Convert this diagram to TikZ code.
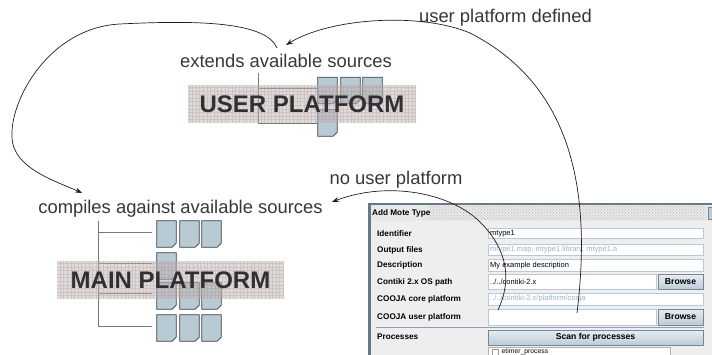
\documentclass[tikz,border=0pt]{standalone}
\usepackage{fontspec}
\setmainfont{Liberation Sans}
\usetikzlibrary{arrows.meta, patterns}

\definecolor{txtgray}{RGB}{55,55,55}
\definecolor{platgray}{RGB}{48,48,52}
\definecolor{bandfill}{RGB}{196,181,178}
\definecolor{bandgrid}{RGB}{150,138,136}
\definecolor{docfill}{RGB}{184,203,213}
\definecolor{docline}{RGB}{55,60,65}
\definecolor{treeline}{RGB}{120,120,120}
\definecolor{linkcol}{RGB}{30,30,30}
\definecolor{dlgbg}{RGB}{238,238,238}
\definecolor{dlgframe}{RGB}{105,120,135}
\definecolor{titlebg}{RGB}{232,232,232}
\definecolor{titledot}{RGB}{185,185,185}
\definecolor{fieldline}{RGB}{184,200,216}
\definecolor{offtxt}{RGB}{150,180,215}
\definecolor{btnline}{RGB}{120,135,150}
\definecolor{btntop}{RGB}{230,237,243}
\definecolor{btnbot}{RGB}{188,203,216}
\definecolor{sepline}{RGB}{140,160,185}

\begin{document}
\begin{tikzpicture}[x=1pt, y=-1pt,
	lbl/.style = {font=\fontsize{18.4}{22}\selectfont, text=txtgray, inner sep=2pt, anchor=base},
	plat/.style = {font=\fontsize{24}{28}\selectfont\bfseries, text=platgray, minimum width=228pt, minimum height=38pt, inner sep=0pt, fill=bandfill, fill opacity=.5, text opacity=1,
		path picture={\draw[bandgrid, draw opacity=.28, line width=.3pt, step=3.6pt] (path picture bounding box.south west) grid (path picture bounding box.north east);}},
	doc/.style = {minimum width=19pt, minimum height=26pt, inner sep=0pt,
		append after command={\pgfextra{\draw[draw=docline, fill=docfill, line width=.8pt] (\tikzlastnode.north west) -- (\tikzlastnode.north east) -- ([yshift=4pt]\tikzlastnode.south east) -- ([xshift=-4pt]\tikzlastnode.south east) -- (\tikzlastnode.south west) -- cycle;}}},
	tree/.style = {draw=treeline, line width=.8pt},
	link/.style = {draw=linkcol, line width=.7pt, -{Stealth[length=7pt, width=5pt]}},
	dlg/.style = {font=\fontsize{7.5}{9}\selectfont, inner sep=0pt, anchor=west},
	dlgb/.style = {dlg, font=\fontsize{8.2}{10}\selectfont\bfseries},
	field/.style = {draw=fieldline, fill=white, line width=.6pt},
	btn/.style = {draw=btnline, top color=btntop, bottom color=btnbot, line width=.6pt, font=\fontsize{8.6}{10}\selectfont\bfseries, inner sep=0pt}]
	\useasboundingbox (0,0) rectangle (712,355);
	\clip (0,0) rectangle (712,355);

	% source files
	\node[doc] (u11) at (327.5,90.5) {};
	\node[doc] (u12) at (350.5,90.5) {};
	\node[doc] (u13) at (372.5,90.5) {};
	\node[doc] (u21) at (327.5,123) {};
	\node[doc] (m11) at (166.5,234) {};
	\node[doc] (m12) at (189.5,234) {};
	\node[doc] (m13) at (211.5,234) {};
	\node[doc] (m21) at (166.5,266) {};
	\node[doc] (m31) at (166.5,296) {};
	\node[doc] (m32) at (189.5,296) {};
	\node[doc] (m33) at (211.5,296) {};
	\node[doc] (m41) at (166.5,328) {};
	\node[doc] (m42) at (189.5,328) {};
	\node[doc] (m43) at (211.5,328) {};

	% trees
	\coordinate (ut) at (258,73);
	\coordinate (mt) at (98,221);
	\draw[tree] (ut) |- ([yshift=2.5pt]u11.west);
	\draw[tree] (ut) |- (u21.west);
	\draw[tree] (mt) |- ([xshift=-5pt, yshift=2pt]m11.west);
	\draw[tree] (mt) |- ([xshift=-5pt, yshift=3pt]m21.west);
	\draw[tree] (mt) |- ([xshift=-5pt, yshift=3pt]m31.west);
	\draw[tree] (mt) |- ([xshift=-5pt, yshift=2pt]m41.west);

	% platforms
	\node[plat] (up) at (302,104) {USER PLATFORM};
	\node[plat, minimum width=227pt] (mp) at (170.5,280) {MAIN PLATFORM};

	\node[lbl] (def) at (505.5,22.5) {user platform defined};
	\node[lbl] (ext) at (286,68) {extends available sources};
	\node[lbl] (comp) at (180.5,213.5) {compiles against available sources};
	\node[lbl] (nou) at (396,185) {no user platform};

	% mote type dialog
	\fill[dlgbg] (368,203) rectangle (712,355);
	\fill[titlebg] (370,205.5) rectangle (712,221);
	\fill[pattern=crosshatch dots, pattern color=titledot] (428,206.5) rectangle (706,220);
	\fill[dlgframe] (368,203) rectangle (712,205.5);
	\fill[dlgframe] (368,203) rectangle (370.5,355);
	\draw[btnline, fill=btnbot] (708,207) rectangle (716,219);
	\node[dlgb] (title) at (372,213.5) {Add Mote Type};

	\node[dlgb] (lid) at (377,233.5) {Identifier};
	\node[dlgb] (lout) at (377,250) {Output files};
	\node[dlgb] (ldesc) at (377,265.5) {Description};
	\node[dlgb] (los) at (377,282) {Contiki 2.x OS path};
	\node[dlgb] (lcore) at (377,299) {COOJA core platform};
	\node[dlgb] (luser) at (377,317) {COOJA user platform};
	\node[dlgb] (lproc) at (377,336.5) {Processes};

	\draw[field] (488,228.5) rectangle (703,238.5);
	\draw[field] (488,244.5) rectangle (703,255.5);
	\draw[field] (488,259.5) rectangle (703,271);
	\draw[field] (488,274.5) rectangle (656,289.5);
	\draw[field] (488,293) rectangle (703,305);
	\draw[field] (488,309) rectangle (656,325);
	\node[dlg] (fid) at (490,233.5) {mtype1};
	\node[dlg, text=offtxt] (fout) at (490,250) {mtype1.map, mtype1.library, mtype1.a};
	\node[dlg] (fdesc) at (490,265.5) {My example description};
	\node[dlg] (fos) at (490,282) {../../contiki-2.x};
	\node[dlg, text=offtxt] (fcore) at (490,299) {../../contiki-2.x/platform/cooja};

	\node[btn, minimum width=45pt, minimum height=15pt] (bos) at (680.5,282) {Browse};
	\node[btn, minimum width=45pt, minimum height=16pt] (buser) at (680.5,317) {Browse};
	\draw[sepline, line width=.8pt] (376,327.5) -- (704,327.5);
	\node[btn, minimum width=215pt, minimum height=15pt] (scan) at (595.5,337.5) {Scan for processes};
	\draw[field, draw=gray!60] (488,347.5) rectangle (670,362);
	\draw[draw=gray!80, fill=white, line width=.5pt] (492,349.5) rectangle (498,355.5);
	\node[dlg, font=\fontsize{6.8}{8}\selectfont, anchor=base west] (p1) at (501.5,353.6) {etimer\_process};

	% links
	\coordinate (nu) at (498,310);
	\coordinate (ud) at (577,313);
	\draw[link] (ud) .. controls (592,190) and (572,85) .. (470,33) .. controls (420,12) and (330,18) .. ([yshift=7.5pt]ext.north);
	\draw[link] ([xshift=-9pt, yshift=4.5pt]ext.north) .. controls (266,22) and (200,20) .. (120,24) .. controls (40,28) and (0,120) .. (15,150) .. controls (25,172) and (60,183) .. ([xshift=46pt, yshift=5pt]comp.north west);
	\draw[link] (nu) .. controls (512,280) and (508,250) .. (480,222) .. controls (452,194) and (390,180) .. ([xshift=7pt, yshift=6.8pt]comp.east);
\end{tikzpicture}
\end{document}
